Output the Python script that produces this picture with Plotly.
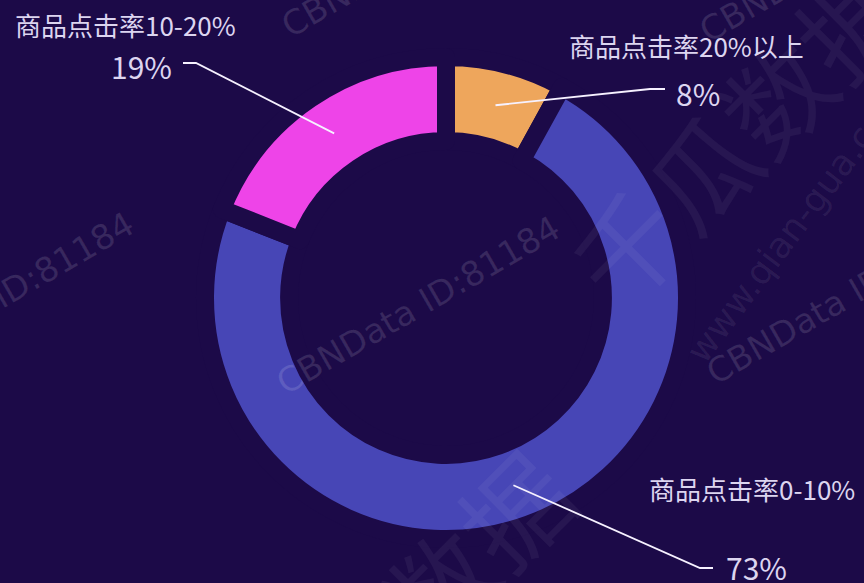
import math
import plotly.graph_objects as go

# ---- data ----
categories = ["商品点击率20%以上", "商品点击率0-10%", "商品点击率10-20%"]
shares = [8, 73, 19]
pct_labels = ["8%", "73%", "19%"]
slice_colors = ["#EEA65C", "#4746B6", "#EE44E8"]

# ---- layout constants ----
W, H = 864, 583
BG = "#1c0a48"
TXT = "#dcd5f0"
FONT = "Noto Sans CJK SC"
cx, cy = 446, 298          # ring centre (px)
R_pie = 241                # pie radius incl. border stroke
hole = 0.651
gap = 18
r_mid = 199


def px(x, y):
    return x / W, 1 - y / H


fig = go.Figure(go.Pie(
    labels=categories,
    values=shares,
    sort=False,
    direction="clockwise",
    rotation=0,
    hole=hole,
    marker=dict(colors=slice_colors, line=dict(color=BG, width=gap)),
    textinfo="none",
    hoverinfo="label+percent",
    showlegend=False,
    domain=dict(x=[(cx - R_pie) / W, (cx + R_pie) / W],
                y=[(H - cy - R_pie) / H, (H - cy + R_pie) / H]),
))

# leader line anchors (elbow, end) and text positions per category
elbows = [(650, 89), (700, 568), (196, 63)]
ends = [(665, 89), (713, 568), (183, 63)]
pct_pos = [(674, 93, "left"), (724, 567, "left"), (174, 66, "right")]
name_pos = [(686, 45), (752, 488), (125, 25)]

total = sum(shares)
cum = 0
shapes = []
annotations = []
for i, v in enumerate(shares):
    mid = (cum + v / 2) / total * 2 * math.pi
    cum += v
    sx = cx + r_mid * math.sin(mid)
    sy = cy - r_mid * math.cos(mid)
    p0 = px(sx, sy)
    p1 = px(*elbows[i])
    p2 = px(*ends[i])
    shapes.append(dict(type="path", xref="paper", yref="paper",
                       path=f"M {p0[0]} {p0[1]} L {p1[0]} {p1[1]} L {p2[0]} {p2[1]}",
                       line=dict(color="#f6f1ff", width=1.8)))
    x, y, anc = pct_pos[i]
    X, Y = px(x, y)
    annotations.append(dict(x=X, y=Y, xref="paper", yref="paper", text=pct_labels[i],
                            showarrow=False, xanchor=anc, yanchor="middle",
                            font=dict(family=FONT, size=30, color=TXT)))
    X, Y = px(*name_pos[i])
    annotations.append(dict(x=X, y=Y, xref="paper", yref="paper", text=categories[i],
                            showarrow=False, xanchor="center", yanchor="middle",
                            font=dict(family=FONT, size=26, color=TXT)))


def watermark(text, x, y, angle, size, color, family="DejaVu Sans"):
    X, Y = px(x, y)
    annotations.append(dict(x=X, y=Y, xref="paper", yref="paper", text=text,
                            showarrow=False, textangle=angle,
                            xanchor="center", yanchor="middle",
                            font=dict(family=family, size=size, color=color)))


# faint watermarks
WM = "rgba(255,255,255,0.12)"
for (x, y) in [(-8, 301), (418, 305), (848, 295), (423, -52), (841, -47)]:
    watermark("CBNData ID:81184", x, y, -30, 34, WM)
watermark("www.qian-gua.com", 797, 221, -53, 36, "rgba(255,255,255,0.07)")
watermark("千瓜数据", 737, 132, -45, 106, "rgba(255,255,255,0.05)", FONT)
watermark("千瓜数据", 400, 620, -45, 106, "rgba(255,255,255,0.05)", FONT)

fig.update_layout(
    width=W, height=H,
    margin=dict(l=0, r=0, t=0, b=0),
    paper_bgcolor=BG, plot_bgcolor=BG,
    shapes=shapes, annotations=annotations,
    showlegend=False,
)

fig.write_html("out.html",
               config={"displayModeBar": False},
               post_script="document.body.style.margin='0';document.body.style.padding='0';")
